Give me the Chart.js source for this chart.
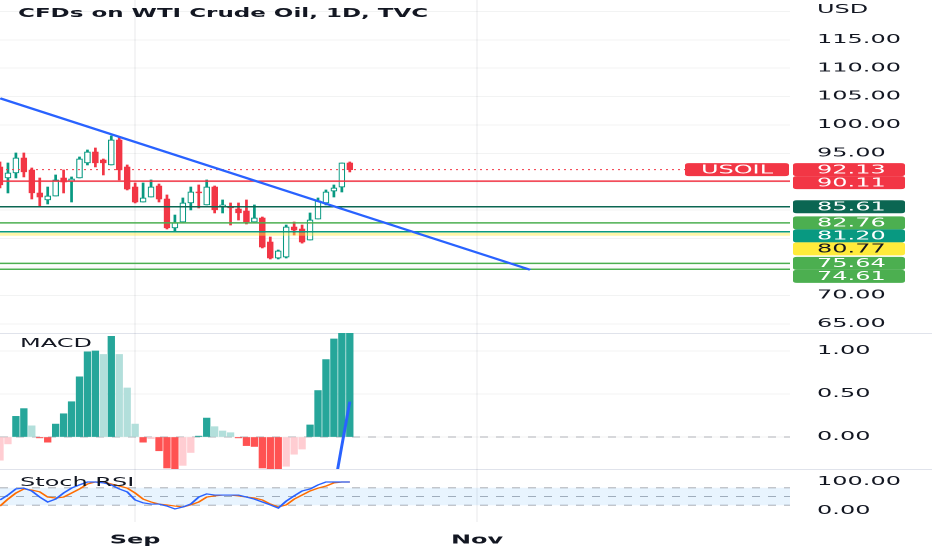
<!DOCTYPE html>
<html>
<head>
<meta charset="utf-8">
<script src="https://cdn.jsdelivr.net/npm/chart.js@4.4.1/dist/chart.umd.min.js"></script>
<style>
    html, body { margin: 0; padding: 0; background: #ffffff; overflow: hidden; }
    /* the reference screenshot is stretched 2x horizontally, so draw at half width and stretch */
    #stage { position: absolute; left: 0; top: 0; width: 466px; height: 550px;
             transform: scaleX(2); transform-origin: 0 0;
             font-family: "DejaVu Sans", sans-serif; color: #131722; }
    .pane { position: absolute; left: 0; width: 466px; }
    .pane canvas { display: block; }
    .sep { position: absolute; left: 0; width: 466px; height: 1px; background: #e0e3eb; }
    .label { position: absolute; white-space: nowrap; font-size: 12px; line-height: 14px; }
</style>
</head>
<body>
<div id="stage">
    <div class="pane" style="top:0;height:333px"><canvas id="price" width="466" height="333"></canvas></div>
    <div class="sep" style="top:333px"></div>
    <div class="pane" style="top:333px;height:136px"><canvas id="macd" width="466" height="136"></canvas></div>
    <div class="sep" style="top:469px"></div>
    <div class="pane" style="top:469px;height:81px"><canvas id="stoch" width="466" height="81"></canvas></div>
    <div class="label" style="left:9px;top:6px;font-weight:bold;font-size:11.5px">CFDs on WTI Crude Oil, 1D, TVC</div>
    <div class="label" style="left:10px;top:336px">MACD</div>
    <div class="label" style="left:10px;top:475px">Stoch RSI</div>
</div>
<script>
// ---- data ----
const symbol = "USOIL";
const currency = "USD";

const dates = [
    "2022-08-09", "2022-08-10", "2022-08-11", "2022-08-12", "2022-08-15", "2022-08-16", "2022-08-17",
    "2022-08-18", "2022-08-19", "2022-08-22", "2022-08-23", "2022-08-24", "2022-08-25", "2022-08-26",
    "2022-08-29", "2022-08-30", "2022-08-31", "2022-09-01", "2022-09-02", "2022-09-05", "2022-09-06",
    "2022-09-07", "2022-09-08", "2022-09-09", "2022-09-12", "2022-09-13", "2022-09-14", "2022-09-15",
    "2022-09-16", "2022-09-19", "2022-09-20", "2022-09-21", "2022-09-22", "2022-09-23", "2022-09-26",
    "2022-09-27", "2022-09-28", "2022-09-29", "2022-09-30", "2022-10-03", "2022-10-04", "2022-10-05",
    "2022-10-06", "2022-10-07", "2022-10-10"
];
const opens = [92.61, 90.67, 91.55, 94.19, 92.08, 88.03, 86.80, 87.50, 90.67, 90.14, 90.67, 93.31, 95.25, 93.84, 92.96,
    97.36, 92.61, 89.08, 86.44, 87.32, 89.26, 86.97, 81.87, 82.92, 86.27, 88.20, 85.92, 89.08, 85.74, 85.56,
    85.21, 84.86, 82.92, 83.63, 79.40, 76.58, 76.76, 82.04, 81.69, 79.75, 83.45, 86.27, 88.38, 89.08, 93.31];
const highs = [93.49, 93.31, 95.07, 95.07, 92.43, 90.67, 89.08, 91.20, 92.08, 90.85, 94.37, 95.60, 95.95, 94.01, 98.06,
    97.89, 92.96, 89.79, 89.79, 90.32, 89.61, 87.68, 84.15, 87.15, 89.08, 89.44, 90.32, 89.26, 86.80, 86.27,
    86.27, 86.80, 85.92, 83.80, 80.28, 77.99, 82.39, 82.92, 82.39, 84.51, 87.15, 88.56, 89.44, 93.31, 93.49];
const lows = [88.91, 88.03, 90.67, 90.85, 86.97, 85.74, 86.09, 87.50, 88.03, 86.44, 90.67, 92.96, 92.61, 91.20, 92.96,
    90.32, 88.56, 86.27, 86.44, 87.32, 86.44, 81.69, 81.16, 82.92, 85.04, 85.39, 85.92, 84.51, 84.51, 82.39,
    83.27, 82.57, 82.75, 78.35, 76.41, 76.41, 76.58, 80.63, 79.20, 79.75, 83.45, 85.92, 87.32, 88.20, 91.73];
const closes = [89.44, 91.55, 94.19, 91.73, 88.03, 87.32, 87.50, 90.32, 89.96, 90.49, 94.01, 95.25, 93.31, 93.31, 97.36,
    92.08, 88.73, 86.44, 87.15, 89.08, 86.97, 81.87, 82.75, 86.27, 88.20, 88.03, 89.08, 85.04, 85.92, 85.39,
    84.51, 82.92, 83.63, 78.52, 76.58, 77.82, 82.04, 81.51, 79.40, 83.27, 86.62, 88.20, 88.91, 93.31, 92.13];

// horizontal levels drawn on the chart
const levels = [90.11, 85.61, 82.76, 81.20, 80.77, 75.64, 74.61];
// trend line, in bar index / price
const trendX = [0, 66.7];
const trendY = [104.7, 74.5];

const macdHist = [-0.27, -0.08, 0.24, 0.33, 0.13, -0.01, -0.06, 0.15, 0.27, 0.41, 0.70, 0.99, 1.00, 0.96, 1.17,
    0.96, 0.57, 0.15, -0.06, -0.02, -0.16, -0.36, -0.40, -0.33, -0.18, 0.01, 0.22, 0.12, 0.07, 0.05,
    -0.01, -0.10, -0.11, -0.36, -0.40, -0.42, -0.34, -0.20, -0.14, 0.14, 0.54, 0.90, 1.14, 1.30, 1.40];
const macdLine = [null, null, null, null, null, null, null, null, null, null, null, null, null, null, null,
    null, null, null, null, null, null, null, null, null, null, null, null, null, null, null,
    null, null, null, null, null, null, null, null, null, null, null, null, -0.62, -0.10, 0.41];

const stochK = [38, 55, 76, 79, 69, 48, 31, 41, 62, 79, 90, 100, 100, 97, 90, 76, 66, 38, 28, 24, 24, 17, 7, 14, 24,
    48, 59, 55, 55, 55, 55, 48, 41, 31, 21, 10, 34, 52, 69, 76, 90, 100, 100, 100, 100];
const stochD = [17, 41, 62, 76, 72, 66, 48, 45, 48, 62, 76, 93, 100, 100, 93, 86, 79, 62, 41, 31, 24, 21, 17, 14, 21,
    31, 48, 52, 55, 55, 52, 48, 45, 38, 24, 14, 21, 41, 55, 69, 79, 86, 97, 100, 100];
const stochBands = [80, 50, 20];

// axis ticks
const monthTickIndex = [17, 60];
const monthTickLabels = ["Sep", "Nov"];
const priceGrid = [65, 70, 75, 80, 85, 90, 95, 100, 105, 110, 115, 120];
const priceTickLabels = [65, 70, 95, 100, 105, 110, 115];
const macdTicks = [0, 0.5, 1];
const stochTicks = [0, 100];

// ---- styles ----
const upColor = "#089981";
const downColor = "#f23645";
const levelLineColors = ["#f23645", "#0b6652", "#4caf50", "#089981", "rgba(255, 235, 59, 0.45)", "#4caf50", "#4caf50"];
const levelLineWidths = [1.5, 1.5, 1.5, 1.5, 3, 1.5, 1.5];
const levelBoxColors = ["#f23645", "#0b6652", "#4caf50", "#089981", "#ffeb3b", "#4caf50", "#4caf50"];
const levelTextColors = ["#ffffff", "#ffffff", "#ffffff", "#ffffff", "#131722", "#ffffff", "#ffffff"];

const X_MIN = 0;
const X_MAX = 99.37;
const AXIS_W = 71;
const lastPrice = closes[closes.length - 1];
const lastColor = closes[closes.length - 1] >= opens[opens.length - 1] ? upColor : downColor;

Chart.defaults.font.family = '"DejaVu Sans", sans-serif';
Chart.defaults.font.size = 12;
Chart.defaults.color = "#131722";

function isUp(i) {
    return closes[i] >= opens[i];
}

function flatLine(value) {
    return [{ x: X_MIN, y: value }, { x: X_MAX, y: value }];
}

function xScale(showTicks) {
    return {
        type: "linear",
        min: X_MIN,
        max: X_MAX,
        offset: false,
        grid: { color: "rgba(42, 46, 57, 0.10)", lineWidth: 0.5, drawTicks: false, offset: false },
        border: { display: false },
        afterBuildTicks: function (s) {
            s.ticks = monthTickIndex.map(v => ({ value: v }));
        },
        ticks: {
            display: showTicks,
            autoSkip: false,
            maxRotation: 0,
            padding: 11,
            color: "#131722",
            font: { size: 12, weight: "bold" },
            callback: function (value, index) {
                return monthTickLabels[index];
            }
        },
        afterFit: function (s) {
            s.height = showTicks ? 28 : 0;
            s.paddingLeft = 0;
            s.paddingRight = 0;
        }
    };
}

function yScale(min, max, grid, labels, showGrid) {
    return {
        type: "linear",
        position: "right",
        min: min,
        max: max,
        grid: { display: showGrid, color: "rgba(42, 46, 57, 0.06)", drawTicks: false },
        border: { display: false },
        afterBuildTicks: function (s) {
            s.ticks = grid.map(v => ({ value: v }));
        },
        ticks: {
            autoSkip: false,
            padding: 13.5,
            color: "#131722",
            font: { size: 12 },
            callback: function (value) {
                return labels.includes(value) ? value.toFixed(2) : "";
            }
        },
        afterFit: function (s) {
            s.width = AXIS_W;
            s.paddingTop = 0;
            s.paddingBottom = 0;
        }
    };
}

function baseOptions(xs, ys) {
    return {
        responsive: false,
        devicePixelRatio: 2,
        animation: false,
        events: [],
        layout: { padding: 0 },
        plugins: { legend: { display: false }, tooltip: { enabled: false } },
        scales: { x: xs, y: ys }
    };
}

function box(ctx, x, y, w, h, r) {
    ctx.beginPath();
    if (ctx.roundRect) {
        ctx.roundRect(x, y, w, h, r);
    } else {
        ctx.rect(x, y, w, h);
    }
    ctx.fill();
}

// price scale labels for the levels, pushed apart like the platform does
const priceLabels = {
    id: "priceLabels",
    afterDraw(chart) {
        const ctx = chart.ctx;
        const area = chart.chartArea;
        const y = chart.scales.y;
        const tx = y.left + 13.5;

        ctx.save();
        ctx.font = '12px "DejaVu Sans", sans-serif';
        ctx.textBaseline = "middle";
        ctx.fillStyle = "#131722";
        ctx.fillText(currency, tx, 10);

        const items = [{ v: lastPrice, fill: lastColor, text: "#ffffff" }].concat(
            levels.map((v, i) => ({ v: v, fill: levelBoxColors[i], text: levelTextColors[i] }))
        );
        let prev = -Infinity;
        items.forEach(it => {
            const py = Math.max(y.getPixelForValue(it.v), prev + 13);
            prev = py;
            ctx.fillStyle = it.fill;
            box(ctx, y.left + 1.5, py - 6.5, 56, 13, 2);
            ctx.fillStyle = it.text;
            ctx.fillText(it.v.toFixed(2), tx, py + 0.5);
        });

        const py = y.getPixelForValue(lastPrice);
        ctx.fillStyle = lastColor;
        box(ctx, area.right - 52.5, py - 6.5, 52, 13, 2);
        ctx.fillStyle = "#ffffff";
        ctx.textAlign = "center";
        ctx.fillText(symbol, area.right - 26.5, py + 0.5);
        ctx.restore();
    }
};

// ---- price pane ----
const priceDatasets = [
    {
        type: "bar",
        data: dates.map((d, i) => ({ x: i, y: [lows[i], highs[i]] })),
        backgroundColor: dates.map((d, i) => isUp(i) ? upColor : downColor),
        barThickness: 0.7,
        grouped: false,
        order: 4
    },
    {
        type: "bar",
        data: dates.map((d, i) => ({ x: i, y: [opens[i], closes[i]] })),
        backgroundColor: dates.map((d, i) => isUp(i) ? "#ffffff" : downColor),
        borderColor: dates.map((d, i) => isUp(i) ? upColor : downColor),
        borderWidth: { left: 0.6, right: 0.6, top: 1, bottom: 1 },
        borderSkipped: false,
        barThickness: 2.7,
        grouped: false,
        order: 3
    },
    {
        type: "line",
        data: flatLine(lastPrice),
        borderColor: lastColor,
        borderWidth: 1,
        borderDash: [1, 2],
        pointRadius: 0,
        order: 2
    }
];
levels.forEach((v, i) => {
    priceDatasets.push({
        type: "line",
        data: flatLine(v),
        borderColor: levelLineColors[i],
        borderWidth: levelLineWidths[i],
        pointRadius: 0,
        order: 2
    });
});
priceDatasets.push({
    type: "line",
    data: trendX.map((x, i) => ({ x: x, y: trendY[i] })),
    borderColor: "#2962ff",
    borderWidth: 2,
    pointRadius: 0,
    order: 1
});

new Chart(document.getElementById("price"), {
    type: "bar",
    data: { datasets: priceDatasets },
    options: baseOptions(xScale(false), yScale(63.38, 122.0, priceGrid, priceTickLabels, true)),
    plugins: [priceLabels]
});

// ---- MACD pane ----
function histColor(i) {
    const v = macdHist[i];
    const rising = i === 0 || v >= macdHist[i - 1];
    if (v >= 0) {
        return rising ? "#26a69a" : "#b2dfdb";
    }
    return rising ? "#ffcdd2" : "#ff5252";
}

new Chart(document.getElementById("macd"), {
    type: "bar",
    data: {
        datasets: [
            {
                type: "bar",
                data: macdHist.map((v, i) => ({ x: i, y: v })),
                backgroundColor: macdHist.map((v, i) => histColor(i)),
                barThickness: 3.0,
                grouped: false,
                order: 2
            },
            {
                type: "line",
                data: flatLine(0),
                borderColor: "rgba(120, 123, 134, 0.55)",
                borderWidth: 1,
                borderDash: [4, 4],
                pointRadius: 0,
                order: 3
            },
            {
                type: "line",
                data: macdLine.map((v, i) => ({ x: i, y: v })),
                borderColor: "#2962ff",
                borderWidth: 1.5,
                pointRadius: 0,
                order: 1
            }
        ]
    },
    options: baseOptions(xScale(false), yScale(-0.372, 1.209, macdTicks, macdTicks, true))
});

// ---- Stoch RSI pane ----
const stochDatasets = stochBands.map((v, i) => ({
    data: flatLine(v),
    borderColor: "rgba(120, 123, 134, 0.6)",
    borderWidth: 1,
    borderDash: [4, 4],
    pointRadius: 0,
    fill: i === 0 ? "+2" : false,
    backgroundColor: "rgba(33, 150, 243, 0.1)",
    order: 3
}));
stochDatasets.push({
    data: stochD.map((v, i) => ({ x: i, y: v })),
    borderColor: "#ff6d00",
    borderWidth: 1.2,
    pointRadius: 0,
    order: 2
});
stochDatasets.push({
    data: stochK.map((v, i) => ({ x: i, y: v })),
    borderColor: "#2962ff",
    borderWidth: 1.2,
    pointRadius: 0,
    order: 1
});

new Chart(document.getElementById("stoch"), {
    type: "line",
    data: { datasets: stochDatasets },
    options: baseOptions(xScale(true), yScale(-37.9, 144.8, stochTicks, stochTicks, false))
});
</script>
</body>
</html>
